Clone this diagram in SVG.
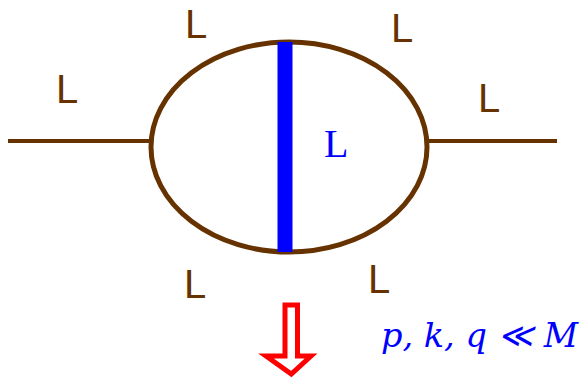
<svg xmlns="http://www.w3.org/2000/svg" width="585" height="381" viewBox="0 0 585 381">
<style>
.br{stroke:#663300;stroke-width:4;fill:none}
.lb{font-family:"Liberation Sans",Arial,sans-serif;font-size:40px;fill:#663300}
</style>
<rect width="585" height="381" fill="#fff"/>
<g id="loop">
<ellipse cx="289" cy="147" rx="138" ry="105" stroke="#663300" stroke-width="5" fill="none"/>
</g>
<g id="connectors">
<line class="br" x1="8" y1="141" x2="151" y2="141"/>
<line class="br" x1="427" y1="141" x2="557" y2="141"/>
<line x1="285" y1="42" x2="285" y2="252" stroke="#0000ff" stroke-width="15"/>
</g>
<g id="labels">
<text class="lb" x="185" y="38">L</text>
<text class="lb" x="391" y="42">L</text>
<text class="lb" x="56" y="103">L</text>
<text class="lb" x="478" y="112">L</text>
<text class="lb" x="184" y="298">L</text>
<text class="lb" x="368" y="293">L</text>
<text x="324" y="157" font-family="Liberation Serif,serif" font-size="40" fill="#0000ff">L</text>
</g>
<g id="arrow">
<path d="M285 305 H297.5 V356 H311 L291.3 374 L266 356 H285 Z" fill="#fff" stroke="#ff0000" stroke-width="5"/>
</g>
<g id="condition">
<text x="381" y="347" font-family="DejaVu Serif,serif" font-style="italic" font-size="34" fill="#0000ff" textLength="197" lengthAdjust="spacingAndGlyphs">p, k, q ≪ M</text>
</g>
</svg>
